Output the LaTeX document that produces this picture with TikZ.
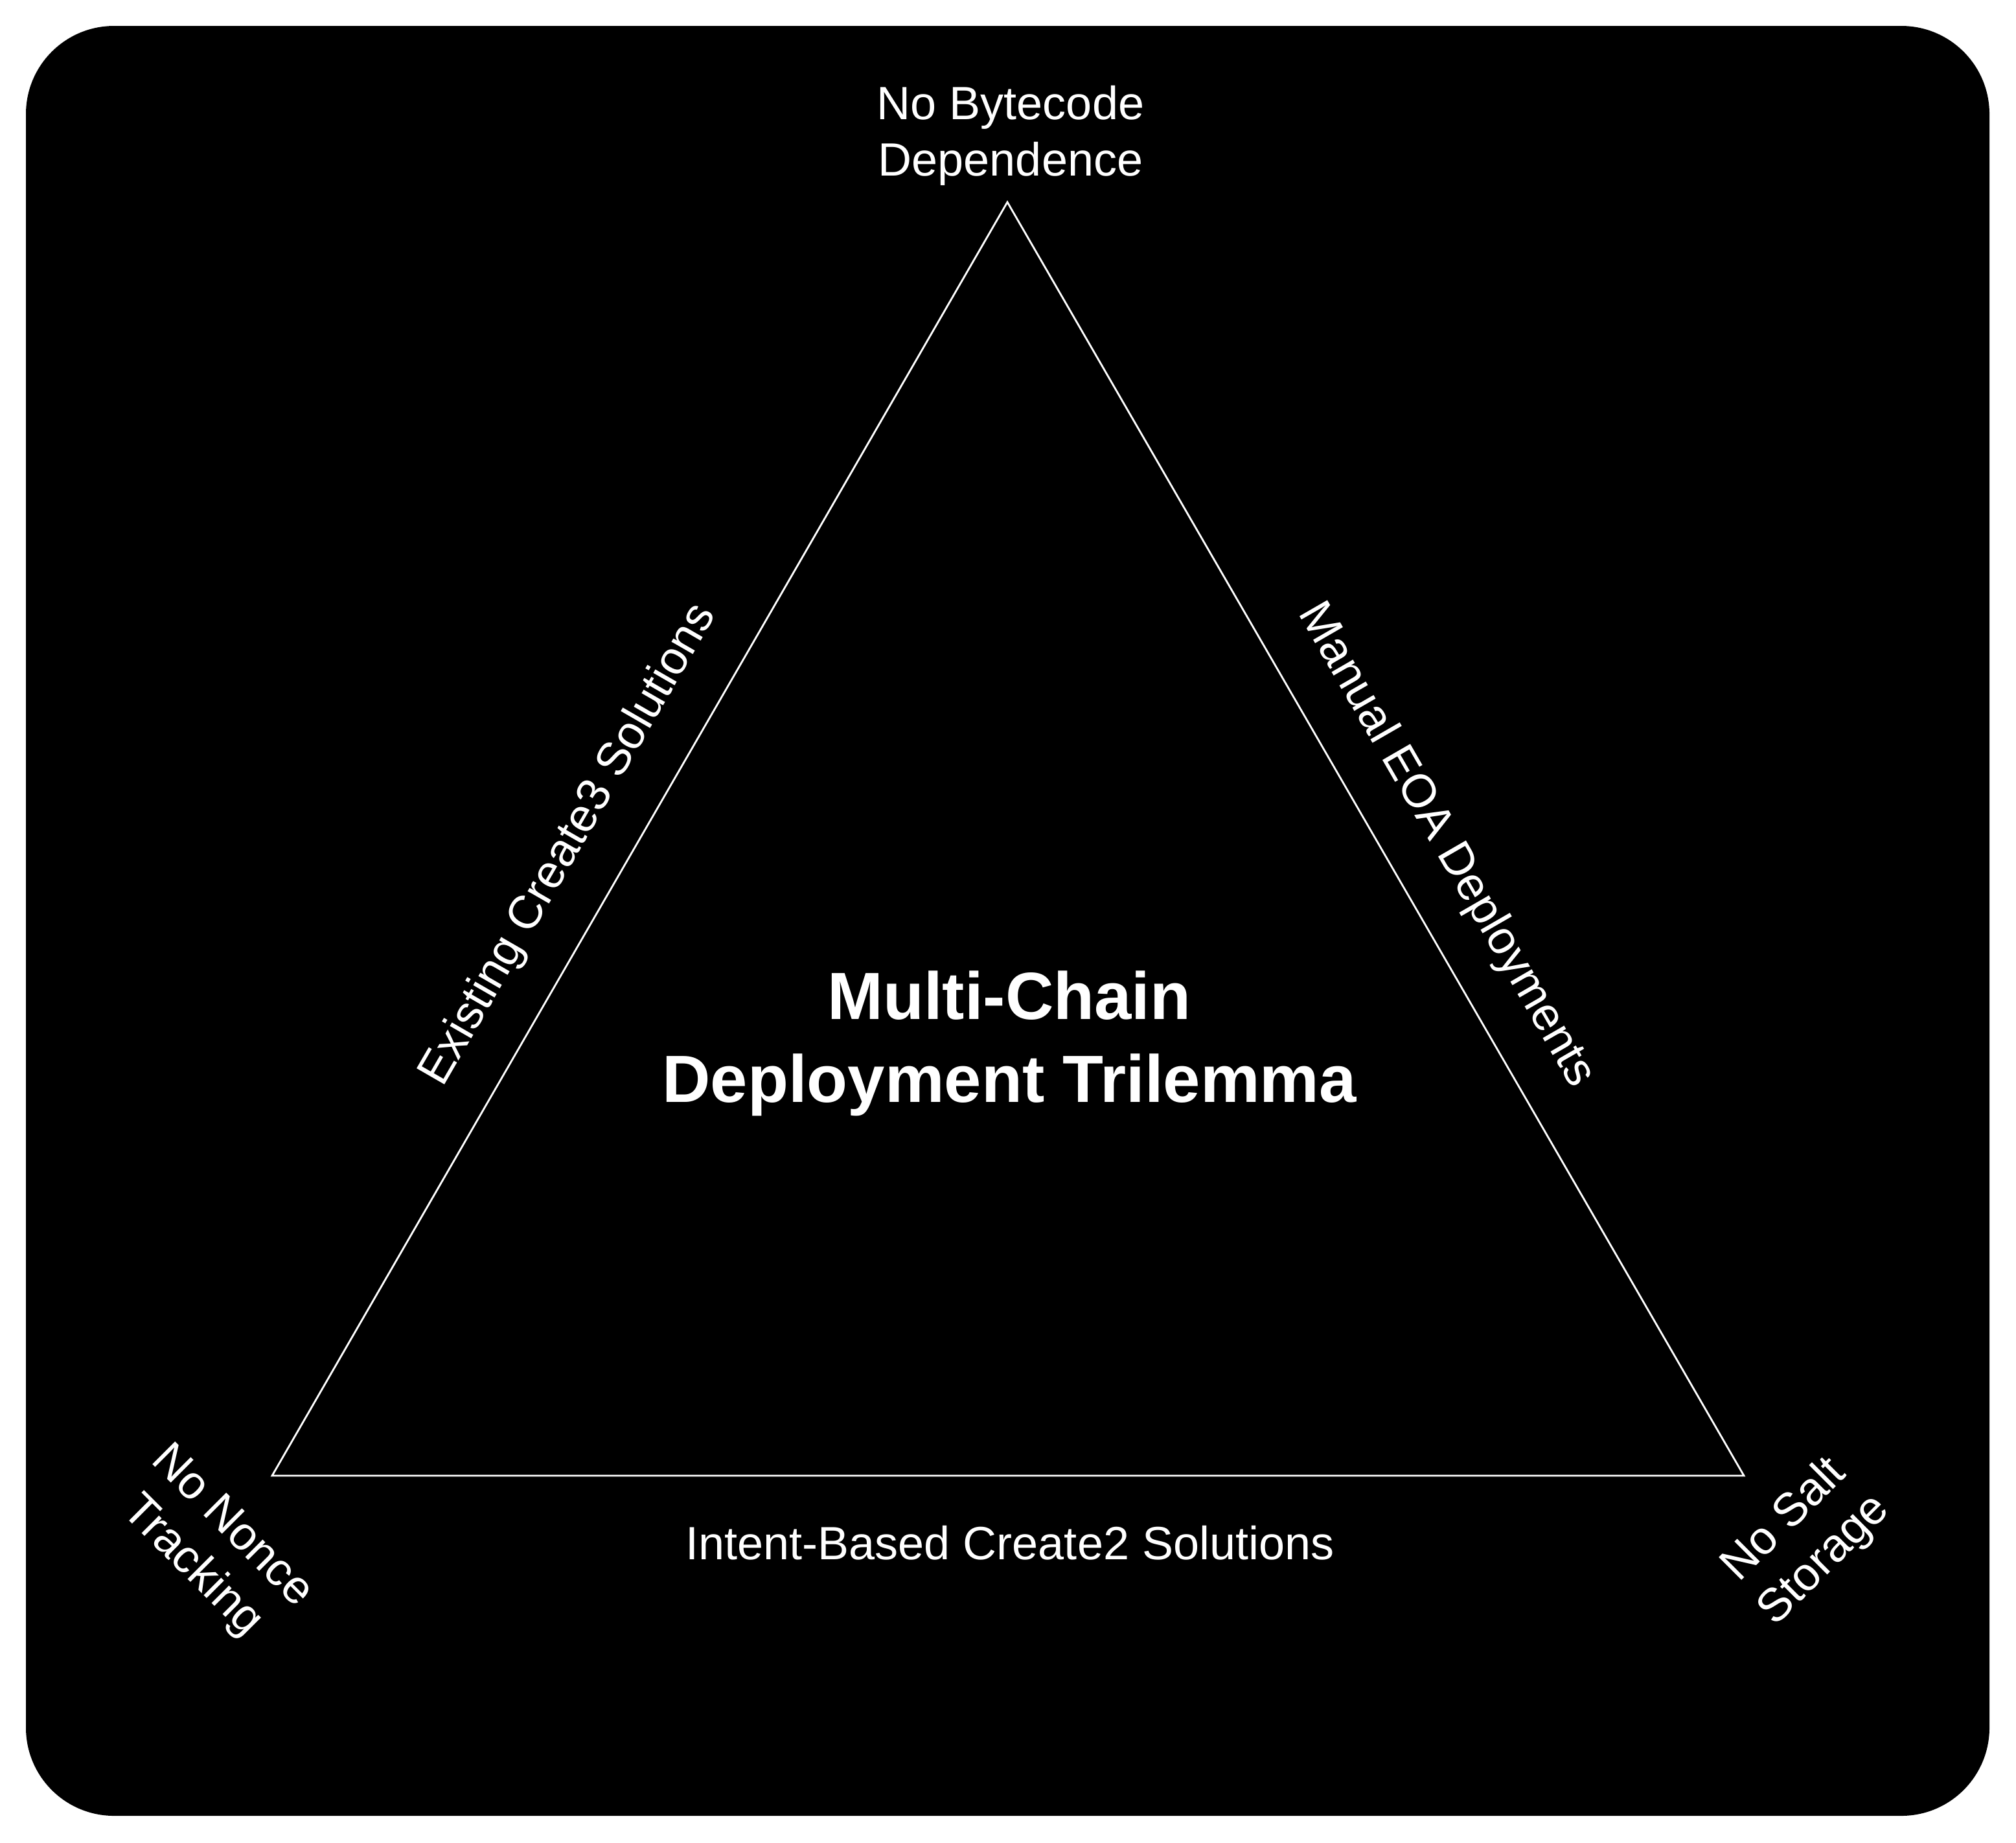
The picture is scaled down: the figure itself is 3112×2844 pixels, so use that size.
\documentclass[tikz,border=0pt]{standalone}
\usepackage{fontspec}
\setmainfont{Liberation Sans}
\begin{document}
\begin{tikzpicture}[x=0.01cm,y=-0.01cm,
  lbl/.style={text=white, inner sep=0pt, align=center, font={\fontsize{20.49}{24.75}\selectfont}},
  ttl/.style={text=white, inner sep=0pt, align=center, font={\fontsize{29.31}{36.42}\selectfont\bfseries}},
  sideline/.style={draw=white, line width=0.8pt}]
\useasboundingbox[fill=white] (0,0) rectangle (3112,2844);
\fill[black, rounded corners=1.36cm] (40,40) rectangle (3071,2803);
\coordinate (A) at (1555,312);
\coordinate (B) at (420,2278);
\coordinate (C) at (2692,2278);
\draw[sideline] (A) -- (B) -- (C) -- cycle;
\node[lbl, anchor=north] (top) at (1560,132) {No Bytecode\\Dependence};
\node[ttl, anchor=north] (title) at (1558,1498) {Multi-Chain\\Deployment Trilemma};
\node[lbl, anchor=base] (bottom) at (1559,2407) {Intent-Based Create2 Solutions};
\node[lbl, anchor=base, rotate=60] (left) at (894.5,1314) {Existing Create3 Solutions};
\node[lbl, anchor=base, rotate=-60] (right) at (2215.5,1314) {Manual EOA Deployments};
\node[lbl, rotate=-45] (bl) at (326,2388) {No Nonce\\Tracking};
\node[lbl, rotate=45] (br) at (2786,2378) {No Salt\\Storage};
\end{tikzpicture}
\end{document}
